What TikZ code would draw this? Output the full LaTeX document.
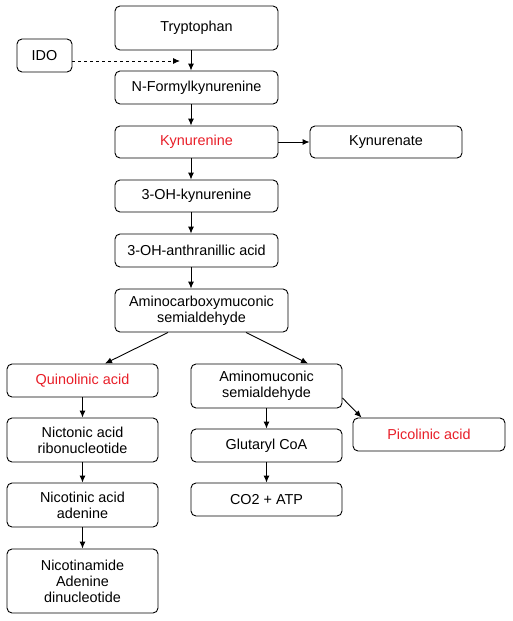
\documentclass[tikz,border=0pt]{standalone}
\usepackage{fontspec}
\setmainfont{Liberation Sans}
\usetikzlibrary{arrows.meta}
\definecolor{pathred}{RGB}{232,30,40}

\begin{document}
\begin{tikzpicture}[x=1pt,y=-1pt,
		box/.style={draw,rounded corners=5pt,line width=0.9pt,inner sep=0pt,align=center,font=\fontsize{14.4}{16}\selectfont},
		flow/.style={-{Latex[length=7pt,width=6pt]},line width=0.9pt}]
		\useasboundingbox (0,0) rectangle (512,621);
        \node[box,minimum width=163pt,minimum height=44pt] (tryp) at (196.5,28) {Tryptophan};
        \node[box,minimum width=55pt,minimum height=33pt] (ido) at (44.5,55.5) {IDO};
        \node[box,minimum width=163pt,minimum height=33pt] (nfk) at (196.5,87.5) {N-Formylkynurenine};
        \node[box,minimum width=163pt,minimum height=32pt,text=pathred] (kyn) at (196.5,142) {Kynurenine};
        \node[box,minimum width=152pt,minimum height=32pt] (kyt) at (386,142) {Kynurenate};
        \node[box,minimum width=163pt,minimum height=32pt] (ohk) at (196.5,196) {3-OH-kynurenine};
        \node[box,minimum width=163pt,minimum height=33pt] (oha) at (196.5,250.5) {3-OH-anthranillic acid};
        \node[box,minimum width=173pt,minimum height=43pt] (acms) at (201.5,310.5) {Aminocarboxymuconic\\semialdehyde};
        \node[box,minimum width=151pt,minimum height=33pt,text=pathred] (quin) at (82.5,380.5) {Quinolinic acid};
        \node[box,minimum width=151pt,minimum height=44pt] (amsa) at (266.5,386) {Aminomuconic\\semialdehyde};
        \node[box,minimum width=151pt,minimum height=44pt] (nict) at (82.5,440) {Nictonic acid\\ribonucleotide};
        \node[box,minimum width=151pt,minimum height=44pt] (nica) at (82.5,505) {Nicotinic acid\\adenine};
        \node[box,minimum width=151pt,minimum height=64pt] (nad) at (82.5,581) {Nicotinamide\\Adenine\\dinucleotide};
        \node[box,minimum width=151pt,minimum height=33pt] (glut) at (266.5,445.5) {Glutaryl CoA};
        \node[box,minimum width=151pt,minimum height=33pt] (co2) at (266.5,499.5) {CO2 + ATP};
        \node[box,minimum width=152pt,minimum height=33pt,text=pathred] (pico) at (429,434.5) {Picolinic acid};
        \coordinate (idotip) at (180,61);
        \draw[flow,dashed] (ido.east |- idotip) -- (idotip);
        \draw[flow] ([xshift=-5.5pt]tryp.south) -- ([xshift=-5.5pt]nfk.north);
        \draw[flow] ([xshift=-5.5pt]nfk.south) -- ([xshift=-5.5pt]kyn.north);
        \draw[flow] (kyn) -- (kyt);
        \draw[flow] ([xshift=-5.5pt]kyn.south) -- ([xshift=-5.5pt]ohk.north);
        \draw[flow] ([xshift=-5.5pt]ohk.south) -- ([xshift=-5.5pt]oha.north);
        \draw[flow] ([xshift=-5.5pt]oha.south) -- ([xshift=-10.5pt]acms.north);
        \draw[flow] ([xshift=-33.5pt]acms.south) -- ([xshift=22.5pt]quin.north);
        \draw[flow] ([xshift=44.5pt]acms.south) -- ([xshift=41.5pt]amsa.north);
        \draw[flow] (quin) -- (nict);
        \draw[flow] (nict) -- (nica);
        \draw[flow] (nica) -- (nad);
        \draw[flow] (amsa) -- (glut);
        \draw[flow] (glut) -- (co2);
        \draw[flow] ([yshift=-12pt]amsa.east) -- ([xshift=9pt]pico.north west);
        \end{tikzpicture}
\end{document}
